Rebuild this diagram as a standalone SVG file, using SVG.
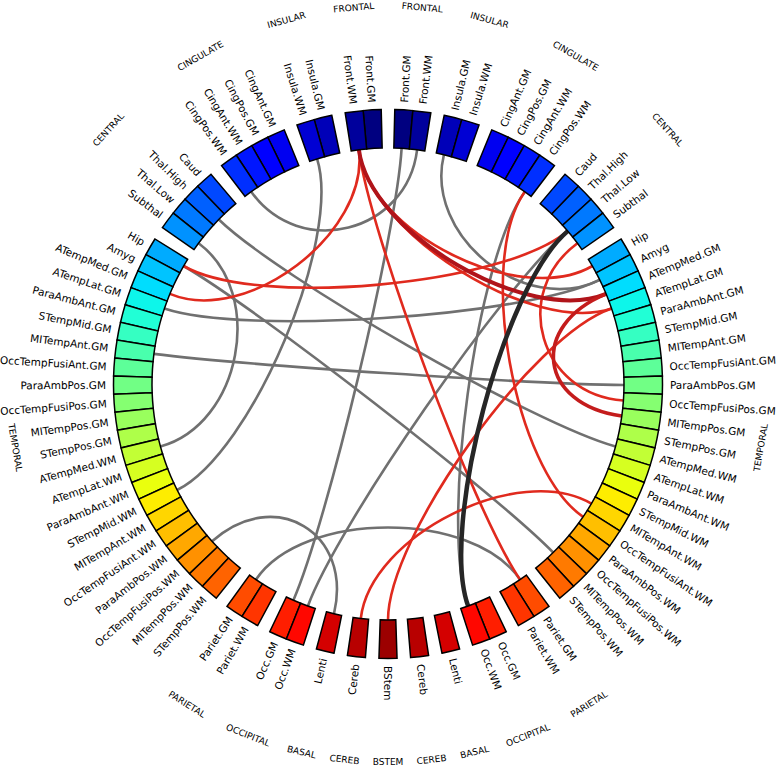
<svg xmlns="http://www.w3.org/2000/svg" xmlns:xlink="http://www.w3.org/1999/xlink" width="777" height="767" viewBox="0 0 777 767">
<style>
.seg{stroke:#000;stroke-width:1.5}
.lbl{font-family:"DejaVu Sans",sans-serif;font-size:10.5px;fill:#000}
.grp{font-family:"DejaVu Sans",sans-serif;font-size:9px;fill:#000}
.con path{fill:none}
.g{stroke:#707070;stroke-width:2.6}
.r{stroke:#e02a1e;stroke-width:2.6}
.d{stroke:#b0141a;stroke-width:4}
.d2{stroke:#c41c1c;stroke-width:3.6}
.k{stroke:#262626;stroke-width:4.5}
</style>
<defs>
<path id="seg" d="M-7.783,-235.872 L-9.052,-274.351 A274.5,274.5 0 0 1 9.052,-274.351 L7.783,-235.872 A236,236 0 0 0 -7.783,-235.872 Z"/>
</defs>
<rect width="777" height="767" fill="#fff"/>
<g id="connectors" class="con">
<path class="g" d="M198.6,243.2 C265.8,293.2 241.2,424.3 160.4,446.5"/>
<path class="g" d="M317.1,158.9 C342.3,238.8 252.0,452.4 177.1,490"/>
<path class="g" d="M212.1,541.3 C274.5,485.5 353.2,532.2 334,613.7"/>
<path class="g" d="M256,579.6 C302.9,510.2 473.1,510.2 520,579.6"/>
<path class="g" d="M251.2,191.7 C299.8,260.0 406.8,232.9 417.1,149.8"/>
<path class="g" d="M401.6,148.4 C396.8,232.0 327.0,523.4 293.4,600.2"/>
<path class="g" d="M567.7,231.1 C503.9,285.4 336.3,527.2 307.9,606"/>
<path class="g" d="M443.9,154.7 C424.1,236.1 524.5,316.8 599.7,279.8"/>
<path class="g" d="M524.8,191.7 C476.2,260.0 439.7,527.2 468.1,606"/>
<path class="g" d="M218.8,219.5 C278.9,277.9 534.8,424.3 615.6,446.5"/>
<path class="g" d="M164.4,308.5 C243.8,335.3 524.5,316.8 599.7,279.8"/>
<path class="g" d="M153.9,353.9 C237.0,364.6 540.2,384.6 624,385"/>
<path class="g" d="M183.6,266 C256.2,307.9 494.6,492.7 553.2,552.5"/>
<path class="r" d="M358.9,149.8 C369.2,232.9 247.3,325.9 169.9,293.9"/>
<path class="r" d="M524.8,191.7 C476.2,260.0 513.8,469.7 583.1,516.8"/>
<path class="r" d="M360.8,618.4 C370.5,535.2 519.2,461.2 591.4,503.7"/>
<path class="r" d="M358.9,149.8 C369.2,232.9 473.1,510.2 520,579.6"/>
<path class="r" d="M183.6,266 C256.2,307.9 503.9,285.4 567.7,231.1"/>
<path class="r" d="M358.9,149.8 C369.2,232.9 532.2,335.3 611.6,308.5"/>
<path class="r" d="M577.4,243.2 C510.2,293.2 539.8,394.6 623.4,400.5"/>
<path class="r" d="M388,620 C388,536.2 532.2,335.3 611.6,308.5"/>
<path class="r" d="M358.9,149.8 C369.2,232.9 519.8,307.9 592.4,266"/>
<path class="d" d="M358.9,149.8 C369.2,232.9 528.7,325.9 606.1,293.9"/>
<path class="d2" d="M606.1,293.9 C528.7,325.9 538.8,404.6 621.8,416"/>
<path class="k" d="M567.7,231.1 C503.9,285.4 439.7,527.2 468.1,606"/>
</g>
<g transform="translate(388,384)">
<g id="R-Front.GM"><use xlink:href="#seg" class="seg" transform="rotate(3.307)" fill="#000080"/><text class="lbl" dy="0.35em" transform="rotate(-86.693) translate(282,0)">Front.GM</text></g>
<g id="R-Front.WM"><use xlink:href="#seg" class="seg" transform="rotate(7.087)" fill="#00009C"/><text class="lbl" dy="0.35em" transform="rotate(-82.913) translate(282,0)">Front.WM</text></g>
<g id="R-Insula.GM"><use xlink:href="#seg" class="seg" transform="rotate(13.701)" fill="#0000B8"/><text class="lbl" dy="0.35em" transform="rotate(-76.299) translate(282,0)">Insula.GM</text></g>
<g id="R-Insula.WM"><use xlink:href="#seg" class="seg" transform="rotate(17.480)" fill="#0000D4"/><text class="lbl" dy="0.35em" transform="rotate(-72.520) translate(282,0)">Insula.WM</text></g>
<g id="R-CingAnt.GM"><use xlink:href="#seg" class="seg" transform="rotate(24.094)" fill="#0000F1"/><text class="lbl" dy="0.35em" transform="rotate(-65.906) translate(282,0)">CingAnt.GM</text></g>
<g id="R-CingPos.GM"><use xlink:href="#seg" class="seg" transform="rotate(27.874)" fill="#0000FF"/><text class="lbl" dy="0.35em" transform="rotate(-62.126) translate(282,0)">CingPos.GM</text></g>
<g id="R-CingAnt.WM"><use xlink:href="#seg" class="seg" transform="rotate(31.653)" fill="#0016FF"/><text class="lbl" dy="0.35em" transform="rotate(-58.347) translate(282,0)">CingAnt.WM</text></g>
<g id="R-CingPos.WM"><use xlink:href="#seg" class="seg" transform="rotate(35.433)" fill="#002FFF"/><text class="lbl" dy="0.35em" transform="rotate(-54.567) translate(282,0)">CingPos.WM</text></g>
<g id="R-Caud"><use xlink:href="#seg" class="seg" transform="rotate(42.047)" fill="#0048FF"/><text class="lbl" dy="0.35em" transform="rotate(-47.953) translate(282,0)">Caud</text></g>
<g id="R-Thal.High"><use xlink:href="#seg" class="seg" transform="rotate(45.827)" fill="#0060FF"/><text class="lbl" dy="0.35em" transform="rotate(-44.173) translate(282,0)">Thal.High</text></g>
<g id="R-Thal.Low"><use xlink:href="#seg" class="seg" transform="rotate(49.606)" fill="#0079FF"/><text class="lbl" dy="0.35em" transform="rotate(-40.394) translate(282,0)">Thal.Low</text></g>
<g id="R-Subthal"><use xlink:href="#seg" class="seg" transform="rotate(53.386)" fill="#0092FF"/><text class="lbl" dy="0.35em" transform="rotate(-36.614) translate(282,0)">Subthal</text></g>
<g id="R-Hip"><use xlink:href="#seg" class="seg" transform="rotate(60)" fill="#00ABFF"/><text class="lbl" dy="0.35em" transform="rotate(-30) translate(282,0)">Hip</text></g>
<g id="R-Amyg"><use xlink:href="#seg" class="seg" transform="rotate(63.780)" fill="#00C4FF"/><text class="lbl" dy="0.35em" transform="rotate(-26.220) translate(282,0)">Amyg</text></g>
<g id="R-ATempMed.GM"><use xlink:href="#seg" class="seg" transform="rotate(67.559)" fill="#00DDFE"/><text class="lbl" dy="0.35em" transform="rotate(-22.441) translate(282,0)">ATempMed.GM</text></g>
<g id="R-ATempLat.GM"><use xlink:href="#seg" class="seg" transform="rotate(71.339)" fill="#0DF6EA"/><text class="lbl" dy="0.35em" transform="rotate(-18.661) translate(282,0)">ATempLat.GM</text></g>
<g id="R-ParaAmbAnt.GM"><use xlink:href="#seg" class="seg" transform="rotate(75.118)" fill="#21FFD6"/><text class="lbl" dy="0.35em" transform="rotate(-14.882) translate(282,0)">ParaAmbAnt.GM</text></g>
<g id="R-STempMid.GM"><use xlink:href="#seg" class="seg" transform="rotate(78.898)" fill="#35FFC2"/><text class="lbl" dy="0.35em" transform="rotate(-11.102) translate(282,0)">STempMid.GM</text></g>
<g id="R-MITempAnt.GM"><use xlink:href="#seg" class="seg" transform="rotate(82.677)" fill="#49FFAD"/><text class="lbl" dy="0.35em" transform="rotate(-7.323) translate(282,0)">MITempAnt.GM</text></g>
<g id="R-OccTempFusiAnt.GM"><use xlink:href="#seg" class="seg" transform="rotate(86.457)" fill="#5DFF99"/><text class="lbl" dy="0.35em" transform="rotate(-3.543) translate(282,0)">OccTempFusiAnt.GM</text></g>
<g id="R-ParaAmbPos.GM"><use xlink:href="#seg" class="seg" transform="rotate(90.236)" fill="#71FF85"/><text class="lbl" dy="0.35em" transform="rotate(0.236) translate(282,0)">ParaAmbPos.GM</text></g>
<g id="R-OccTempFusiPos.GM"><use xlink:href="#seg" class="seg" transform="rotate(94.016)" fill="#85FF71"/><text class="lbl" dy="0.35em" transform="rotate(4.016) translate(282,0)">OccTempFusiPos.GM</text></g>
<g id="R-MITempPos.GM"><use xlink:href="#seg" class="seg" transform="rotate(97.795)" fill="#99FF5D"/><text class="lbl" dy="0.35em" transform="rotate(7.795) translate(282,0)">MITempPos.GM</text></g>
<g id="R-STempPos.GM"><use xlink:href="#seg" class="seg" transform="rotate(101.575)" fill="#AEFF49"/><text class="lbl" dy="0.35em" transform="rotate(11.575) translate(282,0)">STempPos.GM</text></g>
<g id="R-ATempMed.WM"><use xlink:href="#seg" class="seg" transform="rotate(105.354)" fill="#C2FF35"/><text class="lbl" dy="0.35em" transform="rotate(15.354) translate(282,0)">ATempMed.WM</text></g>
<g id="R-ATempLat.WM"><use xlink:href="#seg" class="seg" transform="rotate(109.134)" fill="#D6FF21"/><text class="lbl" dy="0.35em" transform="rotate(19.134) translate(282,0)">ATempLat.WM</text></g>
<g id="R-ParaAmbAnt.WM"><use xlink:href="#seg" class="seg" transform="rotate(112.913)" fill="#EAFF0D"/><text class="lbl" dy="0.35em" transform="rotate(22.913) translate(282,0)">ParaAmbAnt.WM</text></g>
<g id="R-STempMid.WM"><use xlink:href="#seg" class="seg" transform="rotate(116.693)" fill="#FEED00"/><text class="lbl" dy="0.35em" transform="rotate(26.693) translate(282,0)">STempMid.WM</text></g>
<g id="R-MITempAnt.WM"><use xlink:href="#seg" class="seg" transform="rotate(120.472)" fill="#FFD600"/><text class="lbl" dy="0.35em" transform="rotate(30.472) translate(282,0)">MITempAnt.WM</text></g>
<g id="R-OccTempFusiAnt.WM"><use xlink:href="#seg" class="seg" transform="rotate(124.252)" fill="#FFBF00"/><text class="lbl" dy="0.35em" transform="rotate(34.252) translate(282,0)">OccTempFusiAnt.WM</text></g>
<g id="R-ParaAmbPos.WM"><use xlink:href="#seg" class="seg" transform="rotate(128.031)" fill="#FFA800"/><text class="lbl" dy="0.35em" transform="rotate(38.031) translate(282,0)">ParaAmbPos.WM</text></g>
<g id="R-OccTempFusiPos.WM"><use xlink:href="#seg" class="seg" transform="rotate(131.811)" fill="#FF9100"/><text class="lbl" dy="0.35em" transform="rotate(41.811) translate(282,0)">OccTempFusiPos.WM</text></g>
<g id="R-MITempPos.WM"><use xlink:href="#seg" class="seg" transform="rotate(135.591)" fill="#FF7A00"/><text class="lbl" dy="0.35em" transform="rotate(45.591) translate(282,0)">MITempPos.WM</text></g>
<g id="R-STempPos.WM"><use xlink:href="#seg" class="seg" transform="rotate(139.370)" fill="#FF6300"/><text class="lbl" dy="0.35em" transform="rotate(49.370) translate(282,0)">STempPos.WM</text></g>
<g id="R-Pariet.GM"><use xlink:href="#seg" class="seg" transform="rotate(145.984)" fill="#FF4C00"/><text class="lbl" dy="0.35em" transform="rotate(55.984) translate(282,0)">Pariet.GM</text></g>
<g id="R-Pariet.WM"><use xlink:href="#seg" class="seg" transform="rotate(149.764)" fill="#FF3500"/><text class="lbl" dy="0.35em" transform="rotate(59.764) translate(282,0)">Pariet.WM</text></g>
<g id="R-Occ.GM"><use xlink:href="#seg" class="seg" transform="rotate(156.378)" fill="#FF1E00"/><text class="lbl" dy="0.35em" transform="rotate(66.378) translate(282,0)">Occ.GM</text></g>
<g id="R-Occ.WM"><use xlink:href="#seg" class="seg" transform="rotate(160.157)" fill="#FF0700"/><text class="lbl" dy="0.35em" transform="rotate(70.157) translate(282,0)">Occ.WM</text></g>
<g id="R-Lenti"><use xlink:href="#seg" class="seg" transform="rotate(166.772)" fill="#D40000"/><text class="lbl" dy="0.35em" transform="rotate(76.772) translate(282,0)">Lenti</text></g>
<g id="R-Cereb"><use xlink:href="#seg" class="seg" transform="rotate(173.386)" fill="#B80000"/><text class="lbl" dy="0.35em" transform="rotate(83.386) translate(282,0)">Cereb</text></g>
<g id="BStem"><use xlink:href="#seg" class="seg" transform="rotate(180)" fill="#9C0000"/><text class="lbl" dy="0.35em" transform="rotate(90) translate(282,0)">BStem</text></g>
<g id="L-Front.GM"><use xlink:href="#seg" class="seg" transform="rotate(-3.307)" fill="#000080"/><text class="lbl" text-anchor="end" dy="0.35em" transform="rotate(86.693) translate(-282,0)">Front.GM</text></g>
<g id="L-Front.WM"><use xlink:href="#seg" class="seg" transform="rotate(-7.087)" fill="#00009C"/><text class="lbl" text-anchor="end" dy="0.35em" transform="rotate(82.913) translate(-282,0)">Front.WM</text></g>
<g id="L-Insula.GM"><use xlink:href="#seg" class="seg" transform="rotate(-13.701)" fill="#0000B8"/><text class="lbl" text-anchor="end" dy="0.35em" transform="rotate(76.299) translate(-282,0)">Insula.GM</text></g>
<g id="L-Insula.WM"><use xlink:href="#seg" class="seg" transform="rotate(-17.480)" fill="#0000D4"/><text class="lbl" text-anchor="end" dy="0.35em" transform="rotate(72.520) translate(-282,0)">Insula.WM</text></g>
<g id="L-CingAnt.GM"><use xlink:href="#seg" class="seg" transform="rotate(-24.094)" fill="#0000F1"/><text class="lbl" text-anchor="end" dy="0.35em" transform="rotate(65.906) translate(-282,0)">CingAnt.GM</text></g>
<g id="L-CingPos.GM"><use xlink:href="#seg" class="seg" transform="rotate(-27.874)" fill="#0000FF"/><text class="lbl" text-anchor="end" dy="0.35em" transform="rotate(62.126) translate(-282,0)">CingPos.GM</text></g>
<g id="L-CingAnt.WM"><use xlink:href="#seg" class="seg" transform="rotate(-31.653)" fill="#0016FF"/><text class="lbl" text-anchor="end" dy="0.35em" transform="rotate(58.347) translate(-282,0)">CingAnt.WM</text></g>
<g id="L-CingPos.WM"><use xlink:href="#seg" class="seg" transform="rotate(-35.433)" fill="#002FFF"/><text class="lbl" text-anchor="end" dy="0.35em" transform="rotate(54.567) translate(-282,0)">CingPos.WM</text></g>
<g id="L-Caud"><use xlink:href="#seg" class="seg" transform="rotate(-42.047)" fill="#0048FF"/><text class="lbl" text-anchor="end" dy="0.35em" transform="rotate(47.953) translate(-282,0)">Caud</text></g>
<g id="L-Thal.High"><use xlink:href="#seg" class="seg" transform="rotate(-45.827)" fill="#0060FF"/><text class="lbl" text-anchor="end" dy="0.35em" transform="rotate(44.173) translate(-282,0)">Thal.High</text></g>
<g id="L-Thal.Low"><use xlink:href="#seg" class="seg" transform="rotate(-49.606)" fill="#0079FF"/><text class="lbl" text-anchor="end" dy="0.35em" transform="rotate(40.394) translate(-282,0)">Thal.Low</text></g>
<g id="L-Subthal"><use xlink:href="#seg" class="seg" transform="rotate(-53.386)" fill="#0092FF"/><text class="lbl" text-anchor="end" dy="0.35em" transform="rotate(36.614) translate(-282,0)">Subthal</text></g>
<g id="L-Hip"><use xlink:href="#seg" class="seg" transform="rotate(-60)" fill="#00ABFF"/><text class="lbl" text-anchor="end" dy="0.35em" transform="rotate(30) translate(-282,0)">Hip</text></g>
<g id="L-Amyg"><use xlink:href="#seg" class="seg" transform="rotate(-63.780)" fill="#00C4FF"/><text class="lbl" text-anchor="end" dy="0.35em" transform="rotate(26.220) translate(-282,0)">Amyg</text></g>
<g id="L-ATempMed.GM"><use xlink:href="#seg" class="seg" transform="rotate(-67.559)" fill="#00DDFE"/><text class="lbl" text-anchor="end" dy="0.35em" transform="rotate(22.441) translate(-282,0)">ATempMed.GM</text></g>
<g id="L-ATempLat.GM"><use xlink:href="#seg" class="seg" transform="rotate(-71.339)" fill="#0DF6EA"/><text class="lbl" text-anchor="end" dy="0.35em" transform="rotate(18.661) translate(-282,0)">ATempLat.GM</text></g>
<g id="L-ParaAmbAnt.GM"><use xlink:href="#seg" class="seg" transform="rotate(-75.118)" fill="#21FFD6"/><text class="lbl" text-anchor="end" dy="0.35em" transform="rotate(14.882) translate(-282,0)">ParaAmbAnt.GM</text></g>
<g id="L-STempMid.GM"><use xlink:href="#seg" class="seg" transform="rotate(-78.898)" fill="#35FFC2"/><text class="lbl" text-anchor="end" dy="0.35em" transform="rotate(11.102) translate(-282,0)">STempMid.GM</text></g>
<g id="L-MITempAnt.GM"><use xlink:href="#seg" class="seg" transform="rotate(-82.677)" fill="#49FFAD"/><text class="lbl" text-anchor="end" dy="0.35em" transform="rotate(7.323) translate(-282,0)">MITempAnt.GM</text></g>
<g id="L-OccTempFusiAnt.GM"><use xlink:href="#seg" class="seg" transform="rotate(-86.457)" fill="#5DFF99"/><text class="lbl" text-anchor="end" dy="0.35em" transform="rotate(3.543) translate(-282,0)">OccTempFusiAnt.GM</text></g>
<g id="L-ParaAmbPos.GM"><use xlink:href="#seg" class="seg" transform="rotate(-90.236)" fill="#71FF85"/><text class="lbl" text-anchor="end" dy="0.35em" transform="rotate(-0.236) translate(-282,0)">ParaAmbPos.GM</text></g>
<g id="L-OccTempFusiPos.GM"><use xlink:href="#seg" class="seg" transform="rotate(-94.016)" fill="#85FF71"/><text class="lbl" text-anchor="end" dy="0.35em" transform="rotate(-4.016) translate(-282,0)">OccTempFusiPos.GM</text></g>
<g id="L-MITempPos.GM"><use xlink:href="#seg" class="seg" transform="rotate(-97.795)" fill="#99FF5D"/><text class="lbl" text-anchor="end" dy="0.35em" transform="rotate(-7.795) translate(-282,0)">MITempPos.GM</text></g>
<g id="L-STempPos.GM"><use xlink:href="#seg" class="seg" transform="rotate(-101.575)" fill="#AEFF49"/><text class="lbl" text-anchor="end" dy="0.35em" transform="rotate(-11.575) translate(-282,0)">STempPos.GM</text></g>
<g id="L-ATempMed.WM"><use xlink:href="#seg" class="seg" transform="rotate(-105.354)" fill="#C2FF35"/><text class="lbl" text-anchor="end" dy="0.35em" transform="rotate(-15.354) translate(-282,0)">ATempMed.WM</text></g>
<g id="L-ATempLat.WM"><use xlink:href="#seg" class="seg" transform="rotate(-109.134)" fill="#D6FF21"/><text class="lbl" text-anchor="end" dy="0.35em" transform="rotate(-19.134) translate(-282,0)">ATempLat.WM</text></g>
<g id="L-ParaAmbAnt.WM"><use xlink:href="#seg" class="seg" transform="rotate(-112.913)" fill="#EAFF0D"/><text class="lbl" text-anchor="end" dy="0.35em" transform="rotate(-22.913) translate(-282,0)">ParaAmbAnt.WM</text></g>
<g id="L-STempMid.WM"><use xlink:href="#seg" class="seg" transform="rotate(-116.693)" fill="#FEED00"/><text class="lbl" text-anchor="end" dy="0.35em" transform="rotate(-26.693) translate(-282,0)">STempMid.WM</text></g>
<g id="L-MITempAnt.WM"><use xlink:href="#seg" class="seg" transform="rotate(-120.472)" fill="#FFD600"/><text class="lbl" text-anchor="end" dy="0.35em" transform="rotate(-30.472) translate(-282,0)">MITempAnt.WM</text></g>
<g id="L-OccTempFusiAnt.WM"><use xlink:href="#seg" class="seg" transform="rotate(-124.252)" fill="#FFBF00"/><text class="lbl" text-anchor="end" dy="0.35em" transform="rotate(-34.252) translate(-282,0)">OccTempFusiAnt.WM</text></g>
<g id="L-ParaAmbPos.WM"><use xlink:href="#seg" class="seg" transform="rotate(-128.031)" fill="#FFA800"/><text class="lbl" text-anchor="end" dy="0.35em" transform="rotate(-38.031) translate(-282,0)">ParaAmbPos.WM</text></g>
<g id="L-OccTempFusiPos.WM"><use xlink:href="#seg" class="seg" transform="rotate(-131.811)" fill="#FF9100"/><text class="lbl" text-anchor="end" dy="0.35em" transform="rotate(-41.811) translate(-282,0)">OccTempFusiPos.WM</text></g>
<g id="L-MITempPos.WM"><use xlink:href="#seg" class="seg" transform="rotate(-135.591)" fill="#FF7A00"/><text class="lbl" text-anchor="end" dy="0.35em" transform="rotate(-45.591) translate(-282,0)">MITempPos.WM</text></g>
<g id="L-STempPos.WM"><use xlink:href="#seg" class="seg" transform="rotate(-139.370)" fill="#FF6300"/><text class="lbl" text-anchor="end" dy="0.35em" transform="rotate(-49.370) translate(-282,0)">STempPos.WM</text></g>
<g id="L-Pariet.GM"><use xlink:href="#seg" class="seg" transform="rotate(-145.984)" fill="#FF4C00"/><text class="lbl" text-anchor="end" dy="0.35em" transform="rotate(-55.984) translate(-282,0)">Pariet.GM</text></g>
<g id="L-Pariet.WM"><use xlink:href="#seg" class="seg" transform="rotate(-149.764)" fill="#FF3500"/><text class="lbl" text-anchor="end" dy="0.35em" transform="rotate(-59.764) translate(-282,0)">Pariet.WM</text></g>
<g id="L-Occ.GM"><use xlink:href="#seg" class="seg" transform="rotate(-156.378)" fill="#FF1E00"/><text class="lbl" text-anchor="end" dy="0.35em" transform="rotate(-66.378) translate(-282,0)">Occ.GM</text></g>
<g id="L-Occ.WM"><use xlink:href="#seg" class="seg" transform="rotate(-160.157)" fill="#FF0700"/><text class="lbl" text-anchor="end" dy="0.35em" transform="rotate(-70.157) translate(-282,0)">Occ.WM</text></g>
<g id="L-Lenti"><use xlink:href="#seg" class="seg" transform="rotate(-166.772)" fill="#D40000"/><text class="lbl" text-anchor="end" dy="0.35em" transform="rotate(-76.772) translate(-282,0)">Lenti</text></g>
<g id="L-Cereb"><use xlink:href="#seg" class="seg" transform="rotate(-173.386)" fill="#B80000"/><text class="lbl" text-anchor="end" dy="0.35em" transform="rotate(-83.386) translate(-282,0)">Cereb</text></g>
<g id="group-labels" class="grp" text-anchor="middle">
<text dy="0.35em" transform="rotate(5.197) translate(0,-378)">FRONTAL</text>
<text dy="0.35em" transform="rotate(-5.197) translate(0,-378)">FRONTAL</text>
<text dy="0.35em" transform="rotate(15.590) translate(0,-378)">INSULAR</text>
<text dy="0.35em" transform="rotate(-15.590) translate(0,-378)">INSULAR</text>
<text dy="0.35em" transform="rotate(29.764) translate(0,-378)">CINGULATE</text>
<text dy="0.35em" transform="rotate(-29.764) translate(0,-378)">CINGULATE</text>
<text dy="0.35em" transform="rotate(47.717) translate(0,-378)">CENTRAL</text>
<text dy="0.35em" transform="rotate(-47.717) translate(0,-378)">CENTRAL</text>
<text dy="0.35em" transform="rotate(99.685) translate(0,-378) rotate(180)">TEMPORAL</text>
<text dy="0.35em" transform="rotate(-99.685) translate(0,-378) rotate(180)">TEMPORAL</text>
<text dy="0.35em" transform="rotate(147.871) translate(0,-378) rotate(180)">PARIETAL</text>
<text dy="0.35em" transform="rotate(-147.871) translate(0,-378) rotate(180)">PARIETAL</text>
<text dy="0.35em" transform="rotate(158.268) translate(0,-378) rotate(180)">OCCIPITAL</text>
<text dy="0.35em" transform="rotate(-158.268) translate(0,-378) rotate(180)">OCCIPITAL</text>
<text dy="0.35em" transform="rotate(166.772) translate(0,-378) rotate(180)">BASAL</text>
<text dy="0.35em" transform="rotate(-166.772) translate(0,-378) rotate(180)">BASAL</text>
<text dy="0.35em" transform="rotate(173.386) translate(0,-378) rotate(180)">CEREB</text>
<text dy="0.35em" transform="rotate(-173.386) translate(0,-378) rotate(180)">CEREB</text>
<text dy="0.35em" transform="rotate(180) translate(0,-378) rotate(180)">BSTEM</text>
</g>
</g>
</svg>
